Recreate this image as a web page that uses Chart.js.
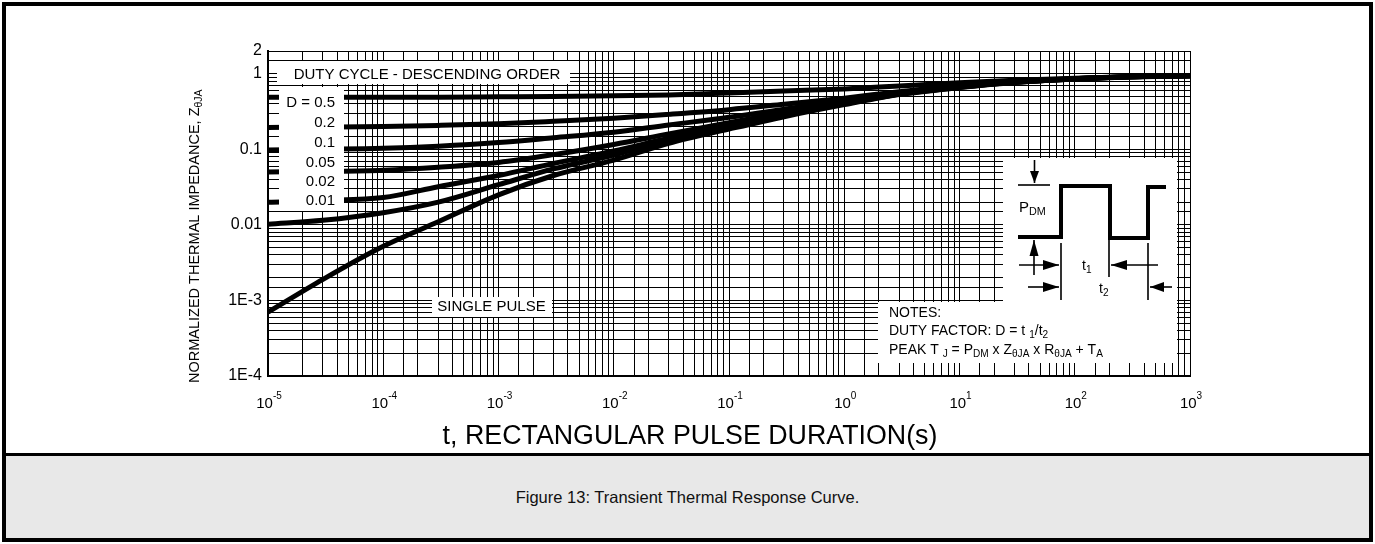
<!DOCTYPE html>
<html>
<head>
<meta charset="utf-8">
<script src="https://cdn.jsdelivr.net/npm/chart.js@4.4.1/dist/chart.umd.min.js"></script>
<style>
  html, body { margin: 0; padding: 0; background: #fff; }
  body { width: 1375px; height: 544px; position: relative; overflow: hidden; font-family: 'Liberation Sans', Arial, Helvetica, sans-serif; }
  #frame { position: absolute; left: 2px; top: 2px; width: 1371px; height: 540px; border: 4px solid #000; box-sizing: border-box; }
  #cap { position: absolute; left: 2px; top: 453px; width: 1371px; height: 89px; background: #e8e8e8; border: 4px solid #000; border-top-width: 3px; box-sizing: border-box; display: flex; align-items: center; justify-content: center; font-size: 16.5px; color: #111; }
  #wrap { position: absolute; left: 0; top: 0; width: 1375px; height: 452px; }
</style>
</head>
<body>
<div id="frame"></div>
<div id="cap">Figure 13: Transient Thermal Response Curve.</div>
<div id="wrap"><canvas id="c"></canvas></div>
<script>
// ---- data ----
const tValues = [1e-5, 3e-5, 1e-4, 3e-4, 1e-3, 3e-3, 1e-2, 3e-2, 1e-1, 3e-1, 1, 3, 10, 30, 100, 300, 1000];
const seriesNames = ['D = 0.5', '0.2', '0.1', '0.05', '0.02', '0.01', 'SINGLE PULSE'];
const zD05   = [0.49, 0.49, 0.49, 0.49, 0.495, 0.50, 0.51, 0.525, 0.555, 0.59, 0.63, 0.69, 0.76, 0.82, 0.87, 0.91, 0.94];
const zD02   = [0.195, 0.197, 0.2, 0.207, 0.218, 0.235, 0.258, 0.29, 0.335, 0.395, 0.475, 0.58, 0.70, 0.79, 0.86, 0.91, 0.94];
const zD01   = [0.098, 0.1, 0.103, 0.11, 0.123, 0.142, 0.168, 0.21, 0.265, 0.34, 0.44, 0.56, 0.68, 0.78, 0.86, 0.91, 0.94];
const zD005  = [0.05, 0.051, 0.053, 0.058, 0.067, 0.085, 0.116, 0.16, 0.225, 0.305, 0.415, 0.55, 0.67, 0.775, 0.86, 0.91, 0.94];
const zD002  = [0.02, 0.021, 0.023, 0.032, 0.045, 0.065, 0.095, 0.14, 0.205, 0.29, 0.405, 0.54, 0.665, 0.77, 0.855, 0.91, 0.94];
const zD001  = [0.0102, 0.0115, 0.0145, 0.02, 0.034, 0.055, 0.084, 0.13, 0.195, 0.28, 0.40, 0.535, 0.66, 0.77, 0.855, 0.91, 0.94];
const zSingle= [0.0007, 0.0019, 0.0052, 0.011, 0.025, 0.045, 0.072, 0.12, 0.185, 0.27, 0.39, 0.53, 0.655, 0.765, 0.85, 0.905, 0.94];
const seriesValues = [zD05, zD02, zD01, zD005, zD002, zD001, zSingle];

const yTickValues = [2, 1, 0.1, 0.01, 1e-3, 1e-4];
const yTickLabels = ['2', '1', '0.1', '0.01', '1E-3', '1E-4'];
const xTickExponents = ['-5', '-4', '-3', '-2', '-1', '0', '1', '2', '3'];
const xTickBase = '10';

const legendLabels = ['D = 0.5', '0.2', '0.1', '0.05', '0.02', '0.01'];
const xTitle = 't, RECTANGULAR PULSE DURATION(s)';
const yTitleMain = 'NORMALIZED THERMAL IMPEDANCE, Z';
const yTitleSub = '\u03B8JA';

const FONT = "'Liberation Sans', Arial, Helvetica, sans-serif";

function richWidth(ctx, parts, size) {
  let w = 0;
  for (const [t, m] of parts) {
    ctx.font = (m ? size * 0.72 : size) + 'px ' + FONT;
    w += ctx.measureText(t).width;
  }
  return w;
}
function drawRich(ctx, x, y, parts, size, align) {
  const w = richWidth(ctx, parts, size);
  let cx = align === 'center' ? x - w / 2 : align === 'right' ? x - w : x;
  ctx.textAlign = 'left';
  ctx.textBaseline = 'middle';
  for (const [t, m] of parts) {
    const s = m ? size * 0.72 : size;
    ctx.font = s + 'px ' + FONT;
    const dy = m === 1 ? size * 0.3 : m === 2 ? -size * 0.38 : 0;
    ctx.fillText(t, cx, y + dy);
    cx += ctx.measureText(t).width;
  }
}
function arrow(ctx, x1, y1, x2, y2, len, half) {
  ctx.beginPath(); ctx.moveTo(x1, y1); ctx.lineTo(x2, y2); ctx.stroke();
  const a = Math.atan2(y2 - y1, x2 - x1);
  ctx.beginPath();
  ctx.moveTo(x2, y2);
  ctx.lineTo(x2 - len * Math.cos(a) + half * Math.sin(a), y2 - len * Math.sin(a) - half * Math.cos(a));
  ctx.lineTo(x2 - len * Math.cos(a) - half * Math.sin(a), y2 - len * Math.sin(a) + half * Math.cos(a));
  ctx.closePath(); ctx.fill();
}

const decor = {
  id: 'decor',
  afterDraw(chart) {
    const ctx = chart.ctx;
    const xs = chart.scales.x;
    ctx.save();
    ctx.fillStyle = '#fff';
    // white label boxes over the grid
    ctx.fillRect(277, 61, 293, 23);   // duty cycle
    ctx.fillRect(279, 87, 65, 124);   // D labels
    ctx.fillRect(432, 297, 120, 20);  // single pulse
    ctx.fillRect(1003, 158, 174, 145);// inset
    ctx.fillRect(878, 302, 299, 61);  // notes

    ctx.fillStyle = '#000';
    ctx.textBaseline = 'middle';
    ctx.font = '15px ' + FONT;
    ctx.textAlign = 'center';
    ctx.fillText('DUTY CYCLE - DESCENDING ORDER', 427, 74.5);
    ctx.fillText('SINGLE PULSE', 491.5, 306.5);
    ctx.textAlign = 'right';
    const ly = [103, 123, 142.5, 162.5, 181.5, 201];
    legendLabels.forEach((l, i) => ctx.fillText(l, 335, ly[i]));

    // notes
    drawRich(ctx, 889, 313.5, [['NOTES:', 0]], 14, 'left');
    drawRich(ctx, 889, 331, [['DUTY FACTOR: D = t ', 0], ['1', 1], ['/t', 0], ['2', 1]], 14, 'left');
    drawRich(ctx, 889, 350.5, [['PEAK T ', 0], ['J', 1], [' = P', 0], ['DM', 1], [' x Z', 0], ['\u03B8JA', 1], [' x R', 0], ['\u03B8JA', 1], [' + T', 0], ['A', 1]], 14, 'left');

    // inset pulse diagram
    ctx.strokeStyle = '#000';
    ctx.lineWidth = 4;
    ctx.lineJoin = 'miter';
    ctx.beginPath();
    ctx.moveTo(1018, 237); ctx.lineTo(1061, 237); ctx.lineTo(1061, 186); ctx.lineTo(1110, 186);
    ctx.lineTo(1110, 238); ctx.lineTo(1148, 238); ctx.lineTo(1148, 187); ctx.lineTo(1166, 187);
    ctx.stroke();
    ctx.lineWidth = 1.6;
    ctx.beginPath(); ctx.moveTo(1018, 185); ctx.lineTo(1050, 185); ctx.stroke();
    arrow(ctx, 1034.5, 160, 1034.5, 183, 12, 4.5);
    arrow(ctx, 1034, 275, 1034, 240, 16, 4.5);
    ctx.beginPath();
    ctx.moveTo(1061, 243); ctx.lineTo(1061, 300);
    ctx.moveTo(1109, 240); ctx.lineTo(1109, 277);
    ctx.moveTo(1148, 243); ctx.lineTo(1148, 300);
    ctx.stroke();
    arrow(ctx, 1019, 265, 1059, 265, 16, 5);
    arrow(ctx, 1158, 265, 1111, 265, 16, 5);
    arrow(ctx, 1028, 287, 1059, 287, 16, 5);
    arrow(ctx, 1172, 287, 1150, 287, 14, 5);
    drawRich(ctx, 1019, 208, [['P', 0], ['DM', 1]], 15, 'left');
    drawRich(ctx, 1082, 266, [['t', 0], ['1', 1]], 14, 'left');
    drawRich(ctx, 1099, 289, [['t', 0], ['2', 1]], 14, 'left');

    // x tick labels with superscripts
    xTickExponents.forEach(e => {
      const px = xs.getPixelForValue(Math.pow(10, Number(e)));
      ctx.font = '15px ' + FONT;
      const wb = ctx.measureText(xTickBase).width;
      ctx.font = '10px ' + FONT;
      const we = ctx.measureText(e).width;
      const x0 = px - (wb + we) / 2 + 1;
      ctx.textAlign = 'left';
      ctx.textBaseline = 'alphabetic';
      ctx.font = '15px ' + FONT;
      ctx.fillText(xTickBase, x0, 408);
      ctx.font = '10px ' + FONT;
      ctx.fillText(e, x0 + wb, 399);
    });

    // x title centered on page
    ctx.textAlign = 'center';
    ctx.textBaseline = 'middle';
    ctx.font = '26.8px ' + FONT;
    ctx.fillText(xTitle, 690, 437);

    // y title rotated
    ctx.translate(195, 383);
    ctx.rotate(-Math.PI / 2);
    drawRich(ctx, 0, 0, [[yTitleMain, 0], [yTitleSub, 1]], 14.5, 'left');
    ctx.restore();
  }
};

const datasets = seriesNames.map((name, i) => ({
  label: name,
  data: tValues.map((t, j) => ({ x: t, y: seriesValues[i][j] })),
  borderColor: '#000',
  backgroundColor: '#000',
  borderWidth: 5,
  pointRadius: 0,
  cubicInterpolationMode: 'monotone',
  fill: false
}));

function matchTick(v, arr) {
  for (let i = 0; i < arr.length; i++) {
    if (Math.abs(Math.log10(v) - Math.log10(arr[i])) < 1e-6) return i;
  }
  return -1;
}

new Chart(document.getElementById('c'), {
  type: 'line',
  data: { datasets },
  options: {
    responsive: true,
    maintainAspectRatio: false,
    animation: false,
    devicePixelRatio: 1,
    layout: { padding: { left: 0, right: 185, top: 51, bottom: 0 } },
    plugins: { legend: { display: false }, tooltip: { enabled: false }, title: { display: false } },
    scales: {
      x: {
        type: 'logarithmic',
        min: 1e-5,
        max: 1e3,
        grid: { color: '#000', lineWidth: 1, drawTicks: false },
        border: { display: true, color: '#000', width: 2 },
        ticks: { display: false },
        afterFit(s) { s.height = 76; }
      },
      y: {
        type: 'logarithmic',
        min: 1e-4,
        max: 2,
        grid: { color: '#000', lineWidth: 1, drawTicks: false },
        border: { display: true, color: '#000', width: 2 },
        ticks: {
          autoSkip: false,
          padding: 6,
          color: '#000',
          font: { family: FONT, size: 16 },
          callback(v) { const i = matchTick(v, yTickValues); return i >= 0 ? yTickLabels[i] : ''; }
        },
        afterFit(s) { s.width = 268; }
      }
    }
  },
  plugins: [decor]
});
</script>
</body>
</html>
